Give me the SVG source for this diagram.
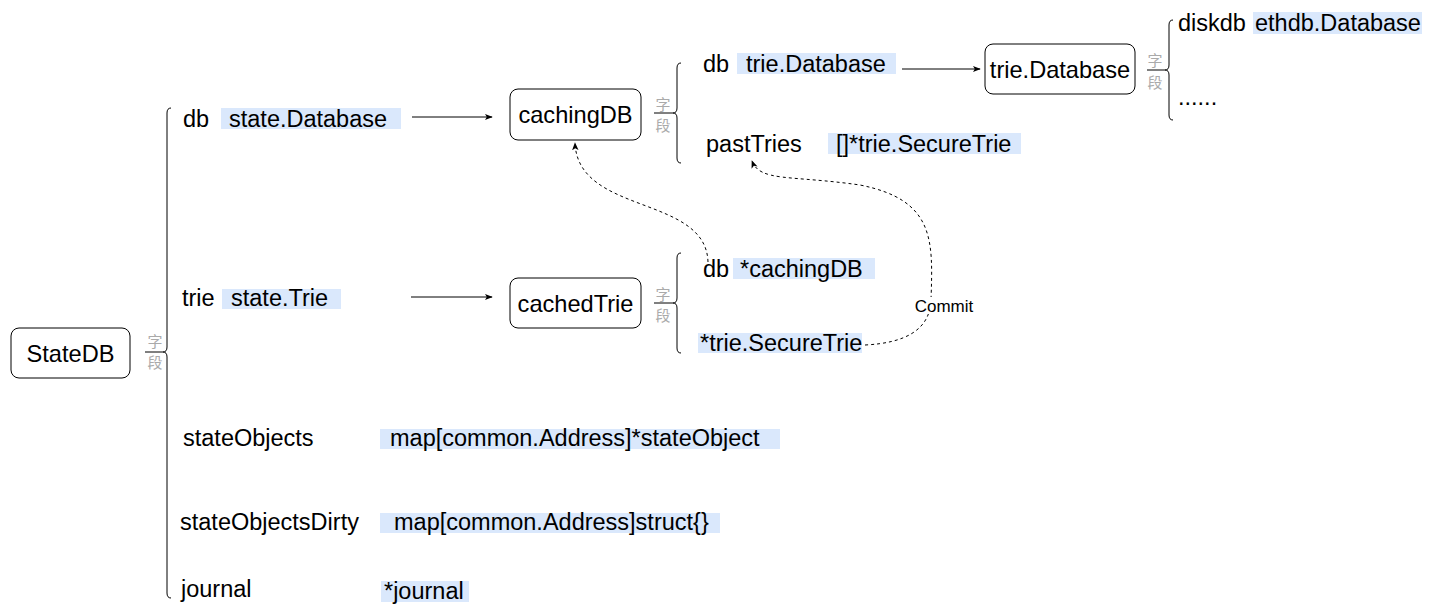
<svg xmlns="http://www.w3.org/2000/svg" width="1434" height="615" viewBox="0 0 1434 615">
<style>
text{font-family:"Liberation Sans",Arial,"Noto Sans CJK SC",sans-serif;fill:#000}
.node rect{fill:#fff;stroke:#000;stroke-width:1}
.nl{font-size:23.6px;text-anchor:middle}
.f{font-size:23.5px}
.hl{fill:#dae8fc}
.zd{font-size:15px;fill:#aaa;text-anchor:middle;font-family:"Noto Sans CJK SC",sans-serif}
.br{fill:none;stroke:#000;stroke-width:1}
.ar{fill:none;stroke:#000;stroke-width:1}
.da{fill:none;stroke:#000;stroke-width:1;stroke-dasharray:3 3}
.cm{font-size:17px;text-anchor:middle}
</style>
<defs>
<marker id="ah" viewBox="0 0 10 10" refX="9" refY="5" markerWidth="8" markerHeight="8" markerUnits="userSpaceOnUse" orient="auto">
<path d="M0,1 L10,5 L0,9 L2.5,5 Z" fill="#000"/>
</marker>
</defs>
<rect width="1434" height="615" fill="#fff"/>

<g id="StateDB" class="node">
<rect x="11" y="328" width="119" height="50" rx="8"/>
<text class="nl" x="70.5" y="362">StateDB</text>
</g>
<g id="StateDB-fields">
<path class="br" d="M145,352 L163,352 M171,108 Q167,108 167,113 L167,347 Q167,352 163,352 Q167,352 167,357 L167,593 Q167,598 171,598"/>
<text class="zd" x="155" y="347">字</text>
<text class="zd" x="155" y="368">段</text>
<rect class="hl" x="221" y="108" width="180" height="21"/>
<text class="f" x="183" y="127">db</text>
<text class="f" x="229" y="127">state.Database</text>
<rect class="hl" x="222" y="289" width="119" height="20"/>
<text class="f" x="182" y="306">trie</text>
<text class="f" x="231" y="306">state.Trie</text>
<rect class="hl" x="380" y="429" width="400" height="20"/>
<text class="f" x="183" y="446">stateObjects</text>
<text class="f" x="390" y="446">map[common.Address]*stateObject</text>
<rect class="hl" x="380" y="513" width="340" height="20"/>
<text class="f" x="180" y="530">stateObjectsDirty</text>
<text class="f" x="394" y="530">map[common.Address]struct{}</text>
<rect class="hl" x="381" y="581" width="88" height="21"/>
<text class="f" x="181" y="597">journal</text>
<text class="f" x="384" y="599">*journal</text>
</g>

<g id="cachingDB" class="node">
<rect x="510" y="89" width="131" height="51" rx="8"/>
<text class="nl" x="575.5" y="123">cachingDB</text>
</g>
<g id="cachingDB-fields">
<path class="br" d="M654,113 L673,113 M681,63 Q677,63 677,68 L677,108 Q677,113 673,113 Q677,113 677,118 L677,158 Q677,163 681,163"/>
<text class="zd" x="663" y="110">字</text>
<text class="zd" x="663" y="131">段</text>
<rect class="hl" x="737" y="53" width="159" height="21"/>
<text class="f" x="703" y="72">db</text>
<text class="f" x="746" y="72">trie.Database</text>
<rect class="hl" x="828" y="133" width="193" height="21"/>
<text class="f" x="706" y="152">pastTries</text>
<text class="f" x="836" y="152">[]*trie.SecureTrie</text>
</g>

<g id="cachedTrie" class="node">
<rect x="510" y="278" width="131" height="50" rx="8"/>
<text class="nl" x="575.5" y="312">cachedTrie</text>
</g>
<g id="cachedTrie-fields">
<path class="br" d="M654,303 L673,303 M681,253 Q677,253 677,258 L677,298 Q677,303 673,303 Q677,303 677,308 L677,348 Q677,353 681,353"/>
<text class="zd" x="663" y="300">字</text>
<text class="zd" x="663" y="321">段</text>
<rect class="hl" x="733" y="258" width="142" height="21"/>
<text class="f" x="703" y="277">db</text>
<text class="f" x="740" y="277">*cachingDB</text>
<rect class="hl" x="698" y="333" width="164" height="20"/>
<text class="f" x="700" y="351">*trie.SecureTrie</text>
</g>

<g id="trieDatabase" class="node">
<rect x="985" y="44" width="150" height="50" rx="8"/>
<text class="nl" x="1060" y="78">trie.Database</text>
</g>
<g id="trieDatabase-fields">
<path class="br" d="M1147,70 L1165,70 M1173,20 Q1169,20 1169,25 L1169,65 Q1169,70 1165,70 Q1169,70 1169,75 L1169,115 Q1169,120 1173,120"/>
<text class="zd" x="1155" y="66">字</text>
<text class="zd" x="1155" y="88">段</text>
<rect class="hl" x="1253" y="12" width="169" height="22"/>
<text class="f" x="1178" y="31">diskdb</text>
<text class="f" x="1255" y="31">ethdb.Database</text>
<text class="f" x="1178" y="105">......</text>
</g>

<g id="connectors">
<path class="ar" d="M412,117 L492,117" marker-end="url(#ah)"/>
<path class="ar" d="M411,297 L492,297" marker-end="url(#ah)"/>
<path class="ar" d="M902,69 L980,69" marker-end="url(#ah)"/>
<path class="da" d="M708,262 C706,195 578,215 575,143" marker-end="url(#ah)"/>
<path class="da" d="M865,345 C905,343 930,330 931,300 C933,240 935,200 860,185 C790,175 760,182 752,161" marker-end="url(#ah)"/>
<rect x="914" y="297" width="60" height="17" fill="#fff"/>
<text class="cm" x="944" y="312">Commit</text>
</g>
</svg>
